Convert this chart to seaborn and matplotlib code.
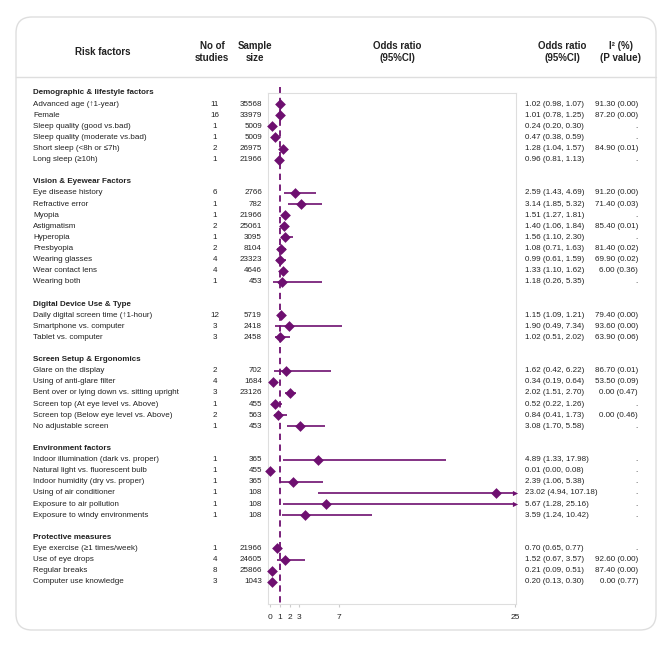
import numpy as np
import pandas as pd
import matplotlib
matplotlib.use("Agg")
import matplotlib.pyplot as plt
import matplotlib.transforms as mtransforms
from matplotlib.patches import FancyBboxPatch
import seaborn as sns

# =========================
# DATA
# =========================
group_order = [
    "Demographic & lifestyle factors",
    "Vision & Eyewear Factors",
    "Digital Device Use & Type",
    "Screen Setup & Ergonomics",
    "Environment factors",
    "Protective measures",
]

factor_group = (
    ["Demographic & lifestyle factors"] * 6
    + ["Vision & Eyewear Factors"] * 9
    + ["Digital Device Use & Type"] * 3
    + ["Screen Setup & Ergonomics"] * 6
    + ["Environment factors"] * 6
    + ["Protective measures"] * 4
)

factors = [
    "Advanced age (↑1-year)", "Female", "Sleep quality (good vs.bad)",
    "Sleep quality (moderate vs.bad)", "Short sleep (<8h or ≤7h)", "Long sleep (≥10h)",
    "Eye disease history", "Refractive error", "Myopia", "Astigmatism", "Hyperopia",
    "Presbyopia", "Wearing glasses", "Wear contact lens", "Wearing both",
    "Daily digital screen time (↑1-hour)", "Smartphone vs. computer", "Tablet vs. computer",
    "Glare on the display", "Using of anti-glare filter",
    "Bent over or lying down vs. sitting upright", "Screen top (At eye level vs. Above)",
    "Screen top (Below eye level vs. Above)", "No adjustable screen",
    "Indoor illumination (dark vs. proper)", "Natural light vs. fluorescent bulb",
    "Indoor humidity (dry vs. proper)", "Using of air conditioner",
    "Exposure to air pollution", "Exposure to windy environments",
    "Eye exercise (≥1 times/week)", "Use of eye drops", "Regular breaks",
    "Computer use knowledge",
]

n_studies = [11, 16, 1, 1, 2, 1,
             6, 1, 1, 2, 1, 2, 4, 4, 1,
             12, 3, 3,
             2, 4, 3, 1, 2, 1,
             1, 1, 1, 1, 1, 1,
             1, 4, 8, 3]

sample_size = [35568, 33979, 5009, 5009, 26975, 21966,
               2766, 782, 21966, 25061, 3095, 8104, 23323, 4646, 453,
               5719, 2418, 2458,
               702, 1684, 23126, 455, 563, 453,
               365, 455, 365, 108, 108, 108,
               21966, 24605, 25866, 1043]

or_est = [1.02, 1.01, 0.24, 0.47, 1.28, 0.96,
          2.59, 3.14, 1.51, 1.40, 1.56, 1.08, 0.99, 1.33, 1.18,
          1.15, 1.90, 1.02,
          1.62, 0.34, 2.02, 0.52, 0.84, 3.08,
          4.89, 0.01, 2.39, 23.02, 5.67, 3.59,
          0.70, 1.52, 0.21, 0.20]

ci_low = [0.98, 0.78, 0.20, 0.38, 1.04, 0.81,
          1.43, 1.85, 1.27, 1.06, 1.10, 0.71, 0.61, 1.10, 0.26,
          1.09, 0.49, 0.51,
          0.42, 0.19, 1.51, 0.22, 0.41, 1.70,
          1.33, 0.00, 1.06, 4.94, 1.28, 1.24,
          0.65, 0.67, 0.09, 0.13]

ci_high = [1.07, 1.25, 0.30, 0.59, 1.57, 1.13,
           4.69, 5.32, 1.81, 1.84, 2.30, 1.63, 1.59, 1.62, 5.35,
           1.21, 7.34, 2.02,
           6.22, 0.64, 2.70, 1.26, 1.73, 5.58,
           17.98, 0.08, 5.38, 107.18, 25.16, 10.42,
           0.77, 3.57, 0.51, 0.30]

i2_text = ["91.30 (0.00)", "87.20 (0.00)", ".", ".", "84.90 (0.01)", ".",
           "91.20 (0.00)", "71.40 (0.03)", ".", "85.40 (0.01)", ".", "81.40 (0.02)",
           "69.90 (0.02)", "6.00 (0.36)", ".",
           "79.40 (0.00)", "93.60 (0.00)", "63.90 (0.06)",
           "86.70 (0.01)", "53.50 (0.09)", "0.00 (0.47)", ".", "0.00 (0.46)", ".",
           ".", ".", ".", ".", ".", ".",
           ".", "92.60 (0.00)", "87.40 (0.00)", "0.00 (0.77)"]

x_ticks = [0, 1, 2, 3, 7, 25]

df = pd.DataFrame({
    "group": factor_group, "factor": factors, "k": n_studies, "n": sample_size,
    "est": or_est, "lo": ci_low, "hi": ci_high, "i2": i2_text,
})

# row layout: header line, rows, one blank line between groups
header_line = {}
line = 0
df["line"] = 0
for g in group_order:
    header_line[g] = line
    line += 1
    for idx in df.index[df["group"] == g]:
        df.loc[idx, "line"] = line
        line += 1
    line += 1

# =========================
# STYLE
# =========================
sns.set_theme(style="white")
plt.rcParams["font.family"] = ["Liberation Sans", "DejaVu Sans"]

purple = "#6e0f70"
txt = "#222222"
light = "#dedede"
fs = 5.8

W, H = 666, 645
fig = plt.figure(figsize=(W / 100, H / 100), dpi=100)

# outer rounded box + header separator
box = FancyBboxPatch((0.16, 0.15), 6.40, 6.13,
                     boxstyle="round,pad=0,rounding_size=0.16",
                     transform=fig.dpi_scale_trans, facecolor="none",
                     edgecolor=light, linewidth=1.0)
fig.patches.append(box)
fig.add_artist(plt.Line2D([16 / W, 656 / W], [1 - 77 / H, 1 - 77 / H],
                          transform=fig.transFigure, color=light, lw=1.0))

# =========================
# FOREST AXES
# =========================
ax = fig.add_axes([268 / W, 41 / H, 248 / W, 511 / H])
xmax = 25.1
ax.set_xlim(-0.2, xmax)
ax.set_ylim(46, 0)

ax.vlines(1, -0.5, 46, colors=purple, linestyles=(0, (3.5, 2.5)), lw=1.3,
          clip_on=False, zorder=1)
ax.hlines(df["line"], df["lo"], df["hi"].clip(upper=25), color=purple, lw=1.2, zorder=2)
sns.scatterplot(data=df, x="est", y="line", marker="D", s=30, color=purple,
                linewidth=0, ax=ax, zorder=3, clip_on=False)
over = df[df["hi"] > 25]
ax.scatter(np.full(len(over), 25), over["line"], marker=">", s=14, color=purple,
           linewidths=0, zorder=3, clip_on=False)

ax.set_xticks(x_ticks)
ax.set_xticklabels([str(t) for t in x_ticks])
ax.set_yticks([])
ax.set_xlabel("")
ax.set_ylabel("")
ax.tick_params(axis="x", length=2, width=0.8, color="#cccccc", labelsize=6,
               labelcolor=txt, pad=5, bottom=True)
for sp in ax.spines.values():
    sp.set_color(light)
    sp.set_linewidth(0.8)

# =========================
# TABLE TEXT
# =========================
tr = mtransforms.blended_transform_factory(fig.transFigure, ax.transData)

for g in group_order:
    ax.text(33 / W, header_line[g], g, transform=tr, ha="left", va="center",
            fontsize=fs, fontweight="bold", color=txt)

for _, r in df.iterrows():
    y = r["line"]
    ax.text(33 / W, y, r["factor"], transform=tr, ha="left", va="center",
            fontsize=fs, color=txt)
    ax.text(215 / W, y, str(r["k"]), transform=tr, ha="center", va="center",
            fontsize=fs, color=txt)
    ax.text(262 / W, y, str(r["n"]), transform=tr, ha="right", va="center",
            fontsize=fs, color=txt)
    ax.text(525 / W, y, f"{r['est']:.2f} ({r['lo']:.2f}, {r['hi']:.2f})",
            transform=tr, ha="left", va="center", fontsize=fs, color=txt)
    ax.text(638 / W, y, r["i2"], transform=tr, ha="right", va="center",
            fontsize=fs, color=txt)

# column headers
hy = 1 - 52 / H
heads = [
    (103, "Risk factors"),
    (212, "No of\nstudies"),
    (255, "Sample\nsize"),
    (397, "Odds ratio\n(95%CI)"),
    (562, "Odds ratio\n(95%CI)"),
    (621, "I² (%)\n(P value)"),
]
for px, label in heads:
    fig.text(px / W, hy, label, ha="center", va="center", fontsize=7,
             fontweight="bold", color=txt, linespacing=1.15)

fig.savefig("out.png", dpi=100)
